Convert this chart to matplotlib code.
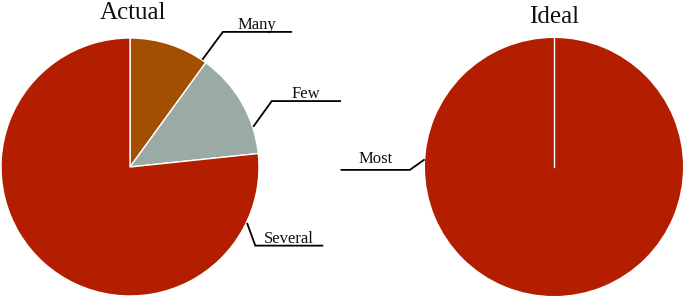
import numpy as np
import matplotlib.pyplot as plt

plt.rcParams['font.family'] = ['Liberation Serif', 'DejaVu Serif']

# data
actual_labels = ['Many', 'Few', 'Several']
actual_values = [3, 4, 23]
ideal_labels = ['Most']
ideal_values = [1]

actual_colors = ['#a34f02', '#9aaba5', '#b31e00']
ideal_colors = ['#b31e00']

# layout (units = pie radius)
R_PX = 129.0
W, H = 685, 297
left_c = (0.0, 0.0)
right_c = ((554 - 130) / R_PX, 0.0)

# leader lines: anchor angle on rim, elbow offset, horizontal length, text gap
actual_leaders = [(56, (0.155, 0.21), 0.53, 0.025),
                  (18.3, (0.14, 0.194), 0.53, 0.027),
                  (-25.8, (0.062, -0.17), 0.52, 0.024)]
ideal_leaders = [(176.9, (-0.109, -0.077), -0.53, 0.054)]

fig = plt.figure(figsize=(W / 100, H / 100), dpi=100)
ax = fig.add_axes([0, 0, 1, 1])

ax.pie(actual_values, colors=actual_colors, startangle=90, counterclock=False,
       center=left_c, radius=1.0,
       wedgeprops=dict(edgecolor='white', linewidth=1.0))
ax.pie(ideal_values, colors=ideal_colors, startangle=90, counterclock=False,
       center=right_c, radius=1.0,
       wedgeprops=dict(edgecolor='none', linewidth=0))
# seam of the full slice
ax.plot([right_c[0], right_c[0]], [0, 1.0], color='white', lw=1.0, zorder=5)

ax.set_xlim(-130 / R_PX, (W - 130) / R_PX)
ax.set_ylim(-(H - 167) / R_PX, 167 / R_PX)
ax.set_aspect('equal')
ax.axis('off')


def leader(center, label, ang, off, length, gap):
    a = np.deg2rad(ang)
    x0 = center[0] + 1.01 * np.cos(a)
    y0 = center[1] + 1.01 * np.sin(a)
    x1, y1 = x0 + off[0], y0 + off[1]
    x2 = x1 + length
    ax.plot([x0, x1, x2], [y0, y1, y1], color='black', lw=1.3,
            solid_joinstyle='miter', zorder=6)
    ax.text(x1 + length / 2, y1 + gap, label, ha='center', va='baseline',
            fontsize=12, color='#111111')


for lab, (ang, off, ln, gap) in zip(actual_labels, actual_leaders):
    leader(left_c, lab, ang, off, ln, gap)
for lab, (ang, off, ln, gap) in zip(ideal_labels, ideal_leaders):
    leader(right_c, lab, ang, off, ln, gap)

ax.text(left_c[0] + 0.02, (167 - 19) / R_PX, 'Actual', ha='center',
        va='baseline', fontsize=18, color='#111111')
ax.text(right_c[0], (167 - 23) / R_PX, 'Ideal', ha='center',
        va='baseline', fontsize=18, color='#111111')

fig.savefig('out.png', dpi=100)
